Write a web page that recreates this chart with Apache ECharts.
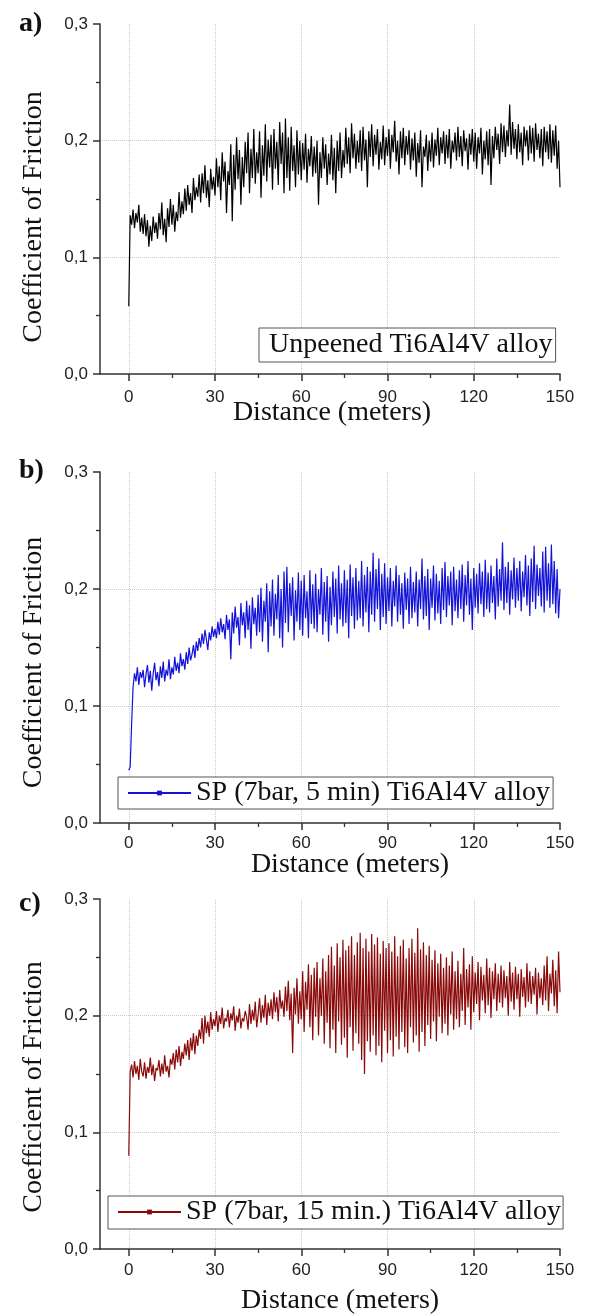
<!DOCTYPE html>
<html>
<head>
<meta charset="utf-8">
<script src="https://cdn.jsdelivr.net/npm/echarts@6/dist/echarts.min.js"></script>
<style>
html, body { margin: 0; padding: 0; background: #fff; }
#friction { width: 590px; height: 1315px; }
</style>
</head>
<body>
<div id="friction"></div>
<script>
// sample spacing of the traces (meters), one value every half meter from 0 to 150
var step = 0.5;
var xTicks = [0, 30, 60, 90, 120, 150];
var xMinorTicks = [15, 45, 75, 105, 135];
var panelLabels = ['a)', 'b)', 'c)'];
var seriesNames = ['Unpeened Ti6Al4V alloy', 'SP (7bar, 5 min) Ti6Al4V alloy', 'SP (7bar, 15 min.) Ti6Al4V alloy'];

// a) unpeened
var cofUnpeened = [
    0.058, 0.136, 0.128, 0.141, 0.125, 0.138, 0.130, 0.145, 0.122, 0.134,
    0.120, 0.137, 0.118, 0.132, 0.109, 0.127, 0.114, 0.135, 0.121, 0.130,
    0.116, 0.138, 0.124, 0.147, 0.119, 0.133, 0.113, 0.142, 0.126, 0.150,
    0.128, 0.145, 0.122, 0.139, 0.131, 0.156, 0.134, 0.148, 0.137, 0.159,
    0.140, 0.162, 0.145, 0.155, 0.138, 0.168, 0.149, 0.160, 0.152, 0.171,
    0.147, 0.172, 0.155, 0.179, 0.151, 0.166, 0.143, 0.176, 0.158, 0.169,
    0.153, 0.185, 0.160, 0.178, 0.149, 0.190, 0.165, 0.182, 0.138, 0.174,
    0.162, 0.197, 0.131, 0.188, 0.158, 0.203, 0.167, 0.192, 0.145, 0.186,
    0.160, 0.199, 0.172, 0.207, 0.155, 0.193, 0.168, 0.210, 0.163, 0.190,
    0.172, 0.208, 0.151, 0.196, 0.170, 0.214, 0.165, 0.201, 0.177, 0.205,
    0.158, 0.210, 0.176, 0.199, 0.162, 0.216, 0.180, 0.207, 0.155, 0.219,
    0.168, 0.203, 0.157, 0.212, 0.174, 0.196, 0.160, 0.209, 0.171, 0.200,
    0.166, 0.198, 0.175, 0.206, 0.164, 0.193, 0.178, 0.204, 0.169, 0.195,
    0.172, 0.200, 0.145, 0.190, 0.168, 0.203, 0.176, 0.197, 0.162, 0.189,
    0.171, 0.205, 0.166, 0.194, 0.155, 0.200, 0.174, 0.207, 0.168, 0.192,
    0.177, 0.211, 0.180, 0.203, 0.172, 0.215, 0.185, 0.206, 0.176, 0.200,
    0.181, 0.209, 0.174, 0.212, 0.183, 0.201, 0.160, 0.208, 0.186, 0.214,
    0.178, 0.205, 0.188, 0.210, 0.175, 0.199, 0.184, 0.213, 0.179, 0.203,
    0.187, 0.210, 0.176, 0.205, 0.190, 0.217, 0.182, 0.200, 0.171, 0.208,
    0.185, 0.211, 0.179, 0.204, 0.188, 0.209, 0.175, 0.202, 0.183, 0.207,
    0.169, 0.198, 0.181, 0.209, 0.160, 0.195, 0.186, 0.205, 0.174, 0.200,
    0.182, 0.207, 0.177, 0.201, 0.187, 0.211, 0.179, 0.203, 0.189, 0.208,
    0.180, 0.205, 0.185, 0.210, 0.176, 0.200, 0.190, 0.207, 0.183, 0.212,
    0.186, 0.204, 0.178, 0.209, 0.191, 0.202, 0.175, 0.206, 0.188, 0.210,
    0.182, 0.207, 0.176, 0.203, 0.189, 0.211, 0.171, 0.200, 0.184, 0.208,
    0.179, 0.210, 0.162, 0.204, 0.185, 0.212, 0.192, 0.206, 0.180, 0.215,
    0.190, 0.213, 0.186, 0.209, 0.195, 0.231, 0.188, 0.216, 0.193, 0.210,
    0.184, 0.214, 0.190, 0.207, 0.179, 0.212, 0.195, 0.209, 0.183, 0.213,
    0.189, 0.211, 0.182, 0.215, 0.192, 0.206, 0.185, 0.210, 0.178, 0.212,
    0.190, 0.208, 0.184, 0.214, 0.181, 0.209, 0.187, 0.213, 0.176, 0.200,
    0.160
];

// b) shot peened 7 bar, 5 min
var cofSP5 = [
    0.045, 0.048, 0.085, 0.116, 0.128, 0.121, 0.133, 0.118, 0.129, 0.124,
    0.131, 0.116, 0.127, 0.135, 0.120, 0.130, 0.113, 0.128, 0.137, 0.122,
    0.129, 0.117, 0.134, 0.124, 0.138, 0.121, 0.131, 0.126, 0.140, 0.123,
    0.133, 0.127, 0.142, 0.130, 0.137, 0.128, 0.145, 0.134, 0.140, 0.131,
    0.146, 0.136, 0.150, 0.139, 0.144, 0.152, 0.141, 0.155, 0.147, 0.158,
    0.150, 0.162, 0.153, 0.165, 0.157, 0.148, 0.163, 0.156, 0.168, 0.159,
    0.166, 0.158, 0.172, 0.161, 0.175, 0.163, 0.170, 0.157, 0.178, 0.165,
    0.174, 0.140, 0.180, 0.162, 0.185, 0.167, 0.176, 0.152, 0.188, 0.169,
    0.180, 0.158, 0.190, 0.165, 0.186, 0.149, 0.193, 0.170, 0.184, 0.160,
    0.195, 0.163, 0.201, 0.155, 0.190, 0.172, 0.205, 0.146, 0.198, 0.168,
    0.208, 0.160, 0.196, 0.174, 0.212, 0.158, 0.200, 0.150, 0.215, 0.171,
    0.219, 0.163, 0.205, 0.177, 0.210, 0.156, 0.199, 0.172, 0.214, 0.165,
    0.207, 0.160, 0.212, 0.175, 0.198, 0.158, 0.216, 0.170, 0.204, 0.166,
    0.213, 0.163, 0.200, 0.178, 0.218, 0.161, 0.206, 0.172, 0.211, 0.155,
    0.202, 0.169, 0.215, 0.176, 0.209, 0.162, 0.220, 0.174, 0.205, 0.168,
    0.216, 0.171, 0.208, 0.158, 0.221, 0.177, 0.210, 0.166, 0.218, 0.173,
    0.207, 0.175, 0.224, 0.168, 0.212, 0.180, 0.219, 0.163, 0.215, 0.178,
    0.231, 0.172, 0.217, 0.183, 0.226, 0.165, 0.213, 0.176, 0.222, 0.170,
    0.210, 0.181, 0.218, 0.168, 0.207, 0.185, 0.220, 0.172, 0.212, 0.178,
    0.205, 0.166, 0.214, 0.182, 0.209, 0.170, 0.219, 0.175, 0.206, 0.180,
    0.215, 0.168, 0.208, 0.183, 0.226, 0.174, 0.211, 0.177, 0.217, 0.165,
    0.209, 0.184, 0.220, 0.173, 0.213, 0.179, 0.207, 0.170, 0.218, 0.182,
    0.223, 0.176, 0.211, 0.186, 0.215, 0.169, 0.219, 0.181, 0.208, 0.175,
    0.216, 0.183, 0.221, 0.172, 0.212, 0.186, 0.224, 0.178, 0.209, 0.165,
    0.218, 0.184, 0.213, 0.179, 0.222, 0.187, 0.215, 0.176, 0.225, 0.183,
    0.214, 0.180, 0.220, 0.188, 0.211, 0.174, 0.226, 0.185, 0.217, 0.190,
    0.240, 0.182, 0.219, 0.188, 0.223, 0.178, 0.216, 0.191, 0.227, 0.184,
    0.218, 0.190, 0.224, 0.181, 0.215, 0.193, 0.229, 0.186, 0.220, 0.177,
    0.226, 0.189, 0.237, 0.183, 0.221, 0.194, 0.218, 0.185, 0.232, 0.180,
    0.236, 0.190, 0.222, 0.184, 0.238, 0.187, 0.224, 0.179, 0.217, 0.175,
    0.200
];

// c) shot peened 7 bar, 15 min
var cofSP15 = [
    0.080, 0.152, 0.158, 0.147, 0.161, 0.150, 0.157, 0.145, 0.163, 0.152,
    0.148, 0.160, 0.146, 0.156, 0.151, 0.164, 0.149, 0.158, 0.144, 0.155,
    0.153, 0.162, 0.148, 0.159, 0.150, 0.166, 0.152, 0.157, 0.147, 0.163,
    0.158, 0.168, 0.154, 0.171, 0.160, 0.174, 0.157, 0.169, 0.163, 0.176,
    0.166, 0.179, 0.162, 0.181, 0.170, 0.185, 0.167, 0.183, 0.174, 0.188,
    0.180, 0.198, 0.176, 0.200, 0.185, 0.195, 0.182, 0.203, 0.188, 0.197,
    0.191, 0.204, 0.186, 0.200, 0.193, 0.207, 0.189, 0.198, 0.195, 0.205,
    0.190, 0.202, 0.196, 0.208, 0.187, 0.200, 0.194, 0.206, 0.189, 0.198,
    0.195, 0.204, 0.199, 0.188, 0.210, 0.193, 0.205, 0.196, 0.212, 0.190,
    0.201, 0.215, 0.194, 0.209, 0.198, 0.218, 0.192, 0.211, 0.200, 0.214,
    0.197, 0.220, 0.203, 0.216, 0.195, 0.222, 0.206, 0.213, 0.199, 0.225,
    0.204, 0.230, 0.196, 0.219, 0.168, 0.224, 0.201, 0.232, 0.193, 0.221,
    0.197, 0.238, 0.186, 0.229, 0.205, 0.244, 0.190, 0.235, 0.179, 0.241,
    0.199, 0.246, 0.183, 0.232, 0.200, 0.249, 0.176, 0.238, 0.194, 0.252,
    0.172, 0.259, 0.188, 0.243, 0.168, 0.262, 0.195, 0.250, 0.175, 0.265,
    0.181, 0.256, 0.164, 0.260, 0.190, 0.268, 0.170, 0.252, 0.185, 0.263,
    0.176, 0.271, 0.162, 0.258, 0.150, 0.266, 0.178, 0.255, 0.169, 0.270,
    0.183, 0.261, 0.166, 0.267, 0.174, 0.253, 0.160, 0.264, 0.187, 0.258,
    0.168, 0.262, 0.179, 0.255, 0.165, 0.268, 0.182, 0.251, 0.171, 0.260,
    0.186, 0.265, 0.173, 0.249, 0.168, 0.258, 0.190, 0.266, 0.177, 0.254,
    0.183, 0.275, 0.169, 0.257, 0.186, 0.263, 0.174, 0.252, 0.192, 0.260,
    0.180, 0.248, 0.195, 0.256, 0.178, 0.245, 0.199, 0.253, 0.185, 0.241,
    0.193, 0.250, 0.183, 0.243, 0.201, 0.255, 0.188, 0.238, 0.197, 0.247,
    0.190, 0.236, 0.204, 0.258, 0.192, 0.240, 0.207, 0.244, 0.188, 0.251,
    0.203, 0.237, 0.210, 0.246, 0.196, 0.242, 0.213, 0.235, 0.202, 0.249,
    0.209, 0.241, 0.198, 0.238, 0.214, 0.245, 0.204, 0.236, 0.211, 0.243,
    0.207, 0.239, 0.215, 0.234, 0.200, 0.246, 0.212, 0.237, 0.205, 0.242,
    0.214, 0.236, 0.199, 0.240, 0.216, 0.233, 0.207, 0.245, 0.212, 0.238,
    0.210, 0.234, 0.218, 0.241, 0.201, 0.237, 0.215, 0.232, 0.209, 0.243,
    0.213, 0.251, 0.204, 0.236, 0.219, 0.248, 0.208, 0.239, 0.202, 0.255,
    0.220
];

var traces = [cofUnpeened, cofSP5, cofSP15];
var lineColors = ['#000000', '#1212d8', '#8a0a0a'];

// layout of the three stacked panels (pixels)
var panels = [
    { top: 24, height: 350, labelTop: 10, labelMargin: 15, nameGap: 25, nameShift: 4, yShift: 36,
      legend: { left: 259, top: 328, padding: [3, 3, 3, 5], itemWidth: 0 } },
    { top: 472, height: 351, labelTop: 457, labelMargin: 12, nameGap: 28, nameShift: 40, yShift: 30,
      legend: { left: 118, top: 777, padding: [2, 3, 2, 9], itemWidth: 63 } },
    { top: 899, height: 350, labelTop: 890, labelMargin: 13, nameGap: 38, nameShift: 20, yShift: 26,
      legend: { left: 108, top: 1196, padding: [2, 2, 3, 9], itemWidth: 63 } }
];

var axisColor = '#333';
var serif = 'Liberation Serif';
var sans = 'Liberation Sans';

function commaFmt(v) {
    return v.toFixed(1).replace('.', ',');
}

var grids = [], xAxes = [], yAxes = [], series = [], legends = [], titles = [];

panels.forEach(function (p, i) {
    grids.push({ left: 100, width: 460, top: p.top, height: p.height, outerBoundsMode: 'none' });

    xAxes.push({
        gridIndex: i, type: 'value', min: -10, max: 150, position: 'bottom',
        axisLine: { show: true, onZero: false, lineStyle: { color: axisColor, width: 1.5 } },
        axisTick: { show: true, length: 7, customValues: xTicks, lineStyle: { color: axisColor, width: 1.5 } },
        axisLabel: { customValues: xTicks, margin: p.labelMargin, fontSize: 17, fontFamily: sans, color: '#222' },
        splitLine: { show: true, showMaxLine: false, lineStyle: { color: '#c8c8c8', type: 'dotted', width: 1 } },
        name: 'Distance (meters)', nameLocation: 'middle', nameGap: p.nameGap, nameMoveOverlap: false,
        nameTextStyle: { fontFamily: serif, fontSize: 28, color: '#111', padding: [0, 0, 0, p.nameShift] }
    });
    // second axis on the same grid only for the minor ticks
    xAxes.push({
        gridIndex: i, type: 'value', min: -10, max: 150, position: 'bottom',
        axisLine: { show: false, onZero: false },
        axisTick: { show: true, length: 4, customValues: xMinorTicks, lineStyle: { color: axisColor, width: 1.3 } },
        axisLabel: { show: false },
        splitLine: { show: false }
    });

    yAxes.push({
        gridIndex: i, type: 'value', min: 0, max: 0.3, interval: 0.1,
        axisLine: { show: true, onZero: false, lineStyle: { color: axisColor, width: 1.5 } },
        axisTick: { show: true, length: 7, lineStyle: { color: axisColor, width: 1.5 } },
        minorTick: { show: true, splitNumber: 2, length: 4, lineStyle: { color: axisColor, width: 1.3 } },
        minorSplitLine: { show: false },
        axisLabel: { margin: 12, fontSize: 17, fontFamily: sans, color: '#222', formatter: commaFmt },
        splitLine: { show: true, showMinLine: false, showMaxLine: false, lineStyle: { color: '#c8c8c8', type: 'dotted', width: 1 } },
        name: 'Coefficient of Friction', nameLocation: 'middle', nameGap: 52, nameMoveOverlap: false,
        nameTextStyle: { fontFamily: serif, fontSize: 28, color: '#111', padding: [0, p.yShift, 0, 0] }
    });

    series.push({
        name: seriesNames[i],
        type: 'line',
        xAxisIndex: i * 2,
        yAxisIndex: i,
        data: traces[i].map(function (v, k) { return [k * step, v]; }),
        showSymbol: false,
        symbol: 'rect',
        symbolSize: 5,
        sampling: false,
        animation: false,
        color: lineColors[i],
        lineStyle: { width: 1.2, color: lineColors[i] }
    });

    legends.push({
        data: [i === 0 ? { name: seriesNames[i], icon: 'none' } : seriesNames[i]],
        orient: 'horizontal',
        left: p.legend.left, top: p.legend.top,
        padding: p.legend.padding,
        itemWidth: p.legend.itemWidth, itemHeight: 6,
        borderColor: '#555', borderWidth: 1, borderRadius: 0,
        backgroundColor: '#fff',
        selectedMode: false,
        textStyle: { fontFamily: serif, fontSize: 28, lineHeight: 28, color: '#111' }
    });

    titles.push({
        text: panelLabels[i], left: 19, top: p.labelTop, padding: 0,
        textStyle: { fontFamily: serif, fontWeight: 'bold', fontSize: 28, color: '#111' }
    });
});

var chart = echarts.init(document.getElementById('friction'));
chart.setOption({
    animation: false,
    backgroundColor: '#fff',
    title: titles,
    legend: legends,
    grid: grids,
    xAxis: xAxes,
    yAxis: yAxes,
    series: series
});
window.addEventListener('resize', function () {
    chart.resize();
});
</script>
</body>
</html>
